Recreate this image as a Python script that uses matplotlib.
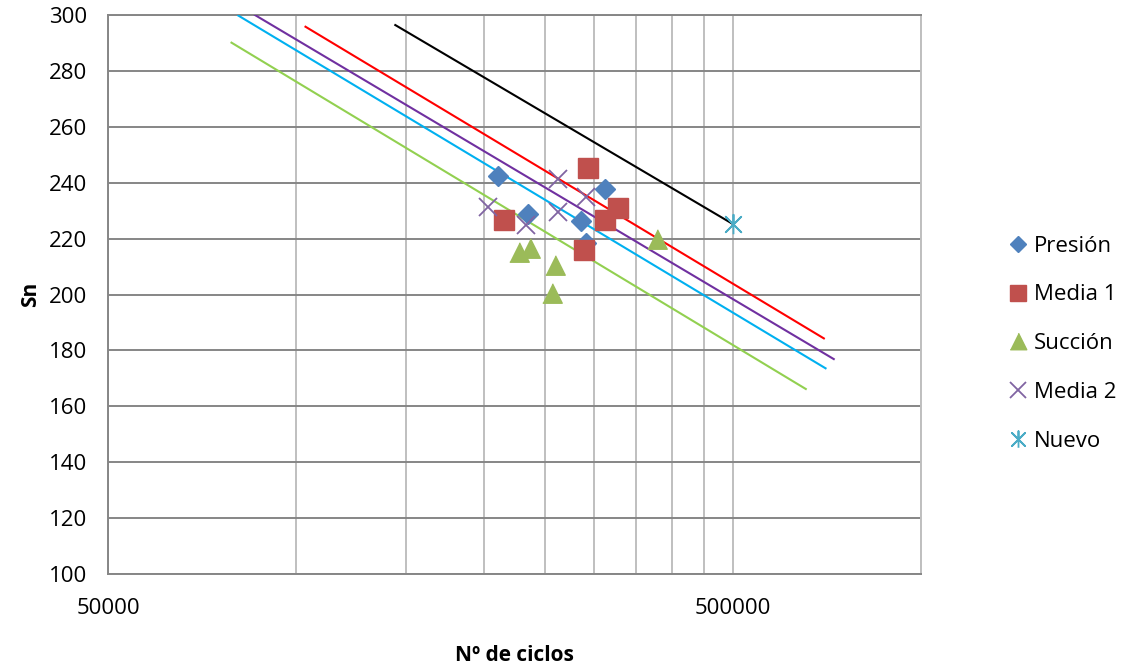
import numpy as np
import matplotlib.pyplot as plt
from matplotlib.ticker import NullFormatter

plt.rcParams['font.family'] = ['Open Sans', 'DejaVu Sans']

# scatter series (ciclos, Sn)
presion_x = [210400, 234600, 285500, 312300, 290800]
presion_y = [242.4, 228.7, 226.3, 237.7, 218.3]

media1_x = [215300, 293300, 311900, 327500, 289000]
media1_y = [226.6, 245.4, 226.6, 230.8, 215.9]

succion_x = [227600, 237000, 259700, 257000, 378000]
succion_y = [215.2, 216.6, 210.6, 200.4, 219.9]

media2_x = [202600, 233300, 262400, 262400, 290800]
media2_y = [231.2, 224.9, 241.2, 229.6, 235.0]

nuevo_x = [500000]
nuevo_y = [225.2]

# trend lines (start, end)
tl_black_x = [144100, 500000]
tl_black_y = [296.4, 225.2]
tl_red_x = [103500, 699000]
tl_red_y = [295.8, 184.3]
tl_purple_x = [85900, 725000]
tl_purple_y = [300.0, 176.9]
tl_cyan_x = [80800, 703400]
tl_cyan_y = [299.8, 173.6]
tl_green_x = [78800, 654000]
tl_green_y = [290.1, 166.2]

x_major = [50000, 500000]
x_minor = [100000, 150000, 200000, 250000, 300000, 350000, 400000, 450000, 1000000]
y_ticks = list(range(100, 301, 20))

fig = plt.figure(figsize=(11.29, 6.66), dpi=100)
ax = fig.add_axes([0.0957, 0.1381, 0.7201, 0.8394])

for xs, ys, c in [(tl_black_x, tl_black_y, 'black'),
                  (tl_red_x, tl_red_y, '#FF0000'),
                  (tl_purple_x, tl_purple_y, '#7030A0'),
                  (tl_cyan_x, tl_cyan_y, '#00B0F0'),
                  (tl_green_x, tl_green_y, '#92D050')]:
    ax.plot(xs, ys, color=c, lw=1.5, zorder=3)

tri = [(-1, -1), (1, -1), (0, 1)]
star = [(0, -1), (0, 1), (0, 0), (-0.8, -0.8), (0.8, 0.8), (0, 0), (-0.8, 0.8), (0.8, -0.8), (0, 0)]

ax.plot(presion_x, presion_y, ls='none', marker='D', ms=9.8, color='#4F81BD', mec='#4F81BD', label='Presión', zorder=4)
ax.plot(media1_x, media1_y, ls='none', marker='s', ms=14, color='#C0504D', mec='#C0504D', label='Media 1', zorder=4)
ax.plot(succion_x, succion_y, ls='none', marker=tri, ms=14, color='#9BBB59', mec='#9BBB59', label='Succión', zorder=4)
ax.plot(media2_x, media2_y, ls='none', marker='x', ms=13, mew=1.3, color='#8064A2', label='Media 2', zorder=4)
ax.plot(nuevo_x, nuevo_y, ls='none', marker=star, ms=14, mew=1.3, color='#4BACC6', mfc='none', label='Nuevo', zorder=4)

ax.set_xscale('log')
ax.set_xlim(50000, 1000000)
ax.set_ylim(100, 300)
ax.set_xticks(x_major)
ax.set_xticklabels([str(v) for v in x_major])
ax.set_xticks(x_minor, minor=True)
ax.xaxis.set_minor_formatter(NullFormatter())
ax.set_yticks(y_ticks)

ax.grid(axis='x', which='both', color='#BFBFBF', lw=1.4)
ax.grid(axis='y', which='major', color='#868686', lw=1.4)
ax.set_axisbelow(True)
ax.tick_params(which='both', length=0, labelsize=16, colors='black')
ax.tick_params(axis='x', pad=17)
ax.tick_params(axis='y', pad=15)

for s in ['left', 'bottom', 'top']:
    ax.spines[s].set_color('#868686')
    ax.spines[s].set_linewidth(1.4)
ax.spines['right'].set_color('#BFBFBF')
ax.spines['right'].set_linewidth(1.4)

ax.set_xlabel('Nº de ciclos', fontsize=15, fontweight='bold', labelpad=19)
ax.set_ylabel('Sn', fontsize=15, fontweight='bold', labelpad=6)

ax.legend(loc='center left', bbox_to_anchor=(0.886, 0.484), bbox_transform=fig.transFigure,
          frameon=False, fontsize=16, handlelength=0.8, handletextpad=0.3,
          labelspacing=1.25, markerscale=0.85, borderaxespad=0)

fig.savefig('out.png', dpi=100)
